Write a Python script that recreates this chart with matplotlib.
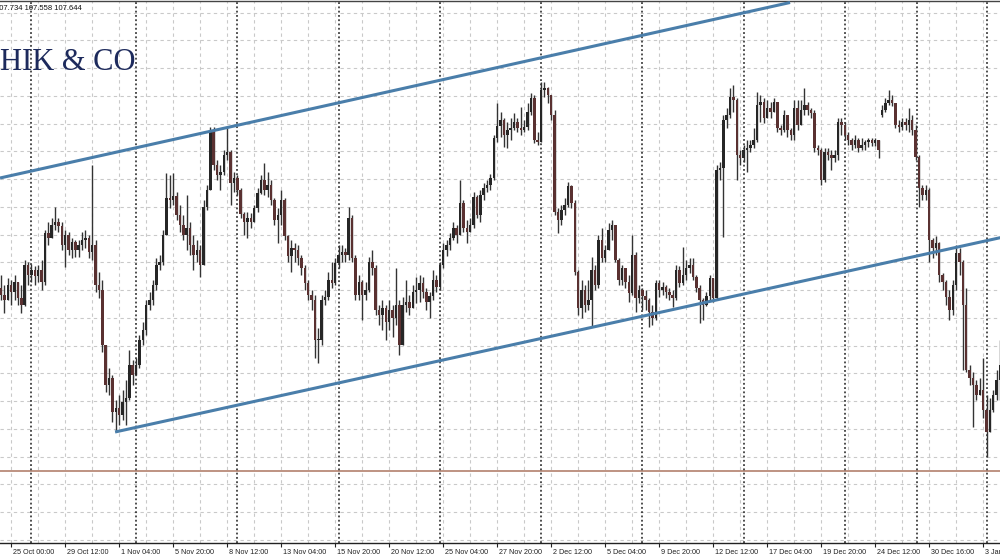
import numpy as np
import matplotlib
matplotlib.use("Agg")
import matplotlib.pyplot as plt
from matplotlib.transforms import ScaledTranslation

# H4 bars (bar 0 = left edge)
closes = [
    109.05, 109.00, 109.15, 109.08, 109.18, 109.02, 108.95, 109.35, 109.25, 109.30,
    109.24, 109.30, 109.18, 109.67, 109.62, 109.75, 109.78, 109.74, 109.55, 109.65,
    109.50, 109.58, 109.50, 109.55, 109.60, 109.62, 109.48, 109.55, 109.15, 109.10,
    108.55, 108.15, 108.22, 107.88, 107.92, 107.85, 107.98, 108.02, 108.35, 108.25,
    108.35, 108.60, 108.70, 108.95, 109.00, 109.15, 109.35, 109.38, 109.65, 110.02,
    110.00, 110.04, 109.85, 109.75, 109.65, 109.72, 109.55, 109.45, 109.50, 109.35,
    109.93, 110.10, 110.70, 110.35, 110.25, 110.28, 110.45, 110.48, 110.17, 110.22,
    110.10, 109.86, 109.78, 109.82, 109.78, 109.92, 110.07, 110.20, 110.10, 110.15,
    110.00, 109.80, 109.85, 110.00, 109.64, 109.44, 109.52, 109.50, 109.42, 109.32,
    109.17, 109.05, 109.00, 108.60, 108.60, 109.00, 109.03, 109.20, 109.17, 109.37,
    109.45, 109.48, 109.45, 109.82, 109.42, 109.05, 109.18, 109.05, 109.10, 109.38,
    109.32, 108.90, 108.85, 108.92, 108.78, 108.90, 108.82, 108.95, 108.55, 108.95,
    108.98, 108.92, 109.08, 109.10, 109.17, 109.08, 108.98, 109.04, 109.20, 109.13,
    109.35, 109.50, 109.55, 109.62, 109.72, 109.65, 109.97, 109.72, 109.68, 109.75,
    110.03, 109.85, 110.05, 110.12, 110.15, 110.22, 110.62, 110.74, 110.80, 110.65,
    110.70, 110.72, 110.78, 110.72, 110.70, 110.73, 110.88, 111.02, 110.60, 110.58,
    111.10, 111.12, 111.05, 110.85, 109.88, 109.80, 109.90, 109.95, 110.14, 109.97,
    109.28, 108.92, 109.10, 108.95, 109.00, 109.30, 109.15, 109.60, 109.42, 109.50,
    109.70, 109.75, 109.40, 109.20, 109.32, 109.18, 109.07, 109.45, 109.02, 109.10,
    109.04, 109.00, 108.88, 108.82, 109.17, 109.10, 109.13, 109.08, 109.05, 109.02,
    109.30, 109.17, 109.25, 109.32, 109.35, 109.23, 109.12, 109.00, 108.95, 109.04,
    109.22, 109.02, 110.30, 110.32, 110.80, 110.85, 111.03, 111.00, 110.45, 110.42,
    110.50, 110.52, 110.55, 110.60, 110.95, 110.98, 110.82, 110.92, 110.88, 110.98,
    110.72, 110.70, 110.85, 110.70, 110.65, 110.92, 110.75, 110.90, 110.95, 110.90,
    110.87, 110.52, 110.50, 110.20, 110.48, 110.45, 110.42, 110.45, 110.78, 110.75,
    110.65, 110.60, 110.55, 110.60, 110.52, 110.55, 110.58, 110.60, 110.57, 110.60,
    110.50, 110.90, 110.97, 111.00, 110.97, 110.75, 110.73, 110.78, 110.75, 110.80,
    110.70, 110.43, 110.12, 110.05, 110.10, 109.60, 109.52, 109.57, 109.25, 109.18,
    109.03, 108.90, 109.15, 109.47, 109.38, 108.95, 108.30, 108.22, 108.15, 108.05,
    108.10, 107.90, 107.68, 107.90, 108.05, 108.20, 108.35,
]

highs = [
    109.25, 109.15, 109.22, 109.20, 109.25, 109.17, 109.15, 109.40, 109.38, 109.36,
    109.34, 109.35, 109.40, 109.70, 109.78, 109.82, 109.93, 109.82, 109.78, 109.70,
    109.68, 109.62, 109.60, 109.60, 109.68, 109.70, 109.65, 110.35, 109.60, 109.28,
    109.20, 108.55, 108.32, 108.25, 108.00, 108.05, 108.10, 108.20, 108.50, 108.40,
    108.42, 108.65, 108.78, 109.00, 109.08, 109.20, 109.42, 109.45, 109.70, 110.27,
    110.25, 110.27, 110.08, 109.95, 109.85, 110.05, 109.78, 109.65, 109.60, 109.55,
    110.00, 110.15, 110.73, 110.73, 110.40, 110.35, 110.50, 110.72, 110.50, 110.28,
    110.25, 110.12, 109.88, 109.88, 109.87, 109.95, 110.12, 110.25, 110.37, 110.28,
    110.20, 110.02, 109.92, 110.10, 110.02, 109.65, 109.60, 109.57, 109.55, 109.45,
    109.35, 109.20, 109.10, 109.05, 108.72, 109.05, 109.10, 109.28, 109.38, 109.42,
    109.55, 109.55, 109.52, 109.93, 109.85, 109.45, 109.25, 109.20, 109.18, 109.43,
    109.50, 109.35, 108.95, 109.00, 108.95, 109.00, 108.95, 109.32, 109.00, 109.03,
    109.20, 109.05, 109.15, 109.23, 109.25, 109.23, 109.12, 109.08, 109.30, 109.25,
    109.38, 109.57, 109.60, 109.67, 109.78, 109.75, 110.20, 110.00, 109.80, 109.82,
    110.08, 110.05, 110.10, 110.17, 110.20, 110.26, 110.65, 110.97, 110.88, 110.82,
    110.78, 110.82, 110.87, 110.82, 110.93, 110.80, 110.97, 111.07, 111.05, 110.68,
    111.18, 111.18, 111.13, 111.05, 110.90, 109.92, 109.95, 110.02, 110.18, 110.15,
    110.00, 109.30, 109.20, 109.15, 109.20, 109.43, 109.35, 109.65, 109.72, 109.55,
    109.77, 109.80, 109.75, 109.42, 109.35, 109.32, 109.25, 109.65, 109.48, 109.15,
    109.12, 109.10, 109.02, 108.95, 109.20, 109.20, 109.18, 109.15, 109.12, 109.10,
    109.35, 109.34, 109.53, 109.40, 109.42, 109.42, 109.25, 109.15, 109.02, 109.08,
    109.25, 109.22, 110.35, 110.38, 110.85, 110.92, 111.12, 111.15, 111.02, 110.50,
    110.55, 110.60, 110.60, 110.72, 111.08, 111.05, 111.02, 111.00, 110.98, 111.02,
    110.95, 110.75, 110.90, 110.82, 110.72, 111.00, 111.00, 111.00, 111.12, 110.98,
    110.92, 110.90, 110.55, 110.52, 110.52, 110.52, 110.50, 110.50, 110.82, 110.82,
    110.78, 110.68, 110.62, 110.65, 110.62, 110.62, 110.60, 110.62, 110.62, 110.62,
    110.60, 110.95, 111.02, 111.10, 111.05, 110.95, 110.80, 110.82, 110.82, 110.92,
    110.85, 110.75, 110.45, 110.15, 110.15, 110.12, 109.62, 109.64, 109.58, 109.27,
    109.20, 109.10, 109.20, 109.55, 109.52, 109.40, 109.12, 108.35, 108.28, 108.20,
    108.22, 108.42, 108.05, 108.02, 108.10, 108.30, 108.60,
]

lows = [
    109.00, 108.87, 109.00, 108.95, 109.00, 108.95, 108.87, 108.94, 109.15, 109.18,
    109.15, 109.18, 109.10, 109.15, 109.55, 109.62, 109.70, 109.68, 109.50, 109.33,
    109.45, 109.42, 109.43, 109.43, 109.50, 109.52, 109.42, 109.40, 109.08, 109.02,
    108.48, 108.08, 108.05, 107.78, 107.68, 107.75, 107.80, 107.75, 108.00, 108.15,
    108.28, 108.32, 108.55, 108.65, 108.90, 108.95, 109.10, 109.30, 109.35, 109.65,
    109.92, 109.95, 109.80, 109.68, 109.60, 109.50, 109.45, 109.30, 109.38, 109.23,
    109.35, 109.90, 110.10, 110.30, 110.20, 110.10, 110.25, 110.40, 109.95, 110.08,
    110.05, 109.82, 109.65, 109.62, 109.72, 109.78, 109.88, 110.06, 110.05, 110.03,
    109.95, 109.75, 109.57, 109.75, 109.60, 109.38, 109.28, 109.38, 109.35, 109.25,
    109.10, 109.00, 108.90, 108.42, 108.37, 108.55, 108.95, 109.00, 109.12, 109.15,
    109.32, 109.38, 109.38, 109.40, 109.38, 109.00, 109.00, 108.80, 109.00, 109.08,
    109.25, 108.85, 108.75, 108.70, 108.60, 108.70, 108.63, 108.75, 108.45, 108.70,
    108.88, 108.85, 108.97, 108.97, 108.98, 109.02, 108.90, 108.82, 109.00, 109.08,
    109.10, 109.32, 109.44, 109.50, 109.60, 109.57, 109.65, 109.68, 109.57, 109.70,
    109.72, 109.82, 109.78, 110.00, 110.08, 110.10, 110.20, 110.58, 110.63, 110.53,
    110.52, 110.60, 110.70, 110.68, 110.65, 110.68, 110.70, 110.85, 110.57, 110.55,
    110.78, 111.03, 110.97, 110.80, 109.85, 109.67, 109.75, 109.85, 109.93, 109.92,
    109.25, 108.85, 108.82, 108.88, 108.90, 108.73, 109.10, 109.12, 109.38, 109.38,
    109.50, 109.60, 109.38, 109.15, 109.15, 109.12, 108.98, 109.05, 108.88, 108.97,
    108.90, 108.90, 108.73, 108.75, 108.80, 109.03, 109.05, 109.02, 109.00, 108.93,
    109.00, 109.13, 109.15, 109.20, 109.27, 109.20, 109.08, 108.77, 108.80, 108.94,
    109.00, 108.98, 109.00, 110.20, 109.63, 110.72, 110.82, 110.88, 110.20, 110.35,
    110.38, 110.28, 110.48, 110.52, 110.58, 110.78, 110.77, 110.85, 110.82, 110.90,
    110.68, 110.65, 110.68, 110.63, 110.60, 110.60, 110.70, 110.82, 110.85, 110.85,
    110.82, 110.48, 110.45, 110.15, 110.18, 110.40, 110.30, 110.38, 110.40, 110.65,
    110.60, 110.55, 110.50, 110.52, 110.48, 110.50, 110.50, 110.53, 110.54, 110.54,
    110.42, 110.83, 110.88, 110.95, 110.94, 110.72, 110.68, 110.70, 110.70, 110.68,
    110.65, 110.40, 109.93, 110.00, 110.00, 109.38, 109.42, 109.45, 109.18, 109.10,
    108.95, 108.80, 108.85, 109.10, 109.25, 108.30, 108.28, 108.15, 107.73, 108.00,
    108.05, 107.82, 107.43, 107.75, 107.88, 108.00, 108.00,
]

first_open = 109.12
gap_opens = {261: 110.85}   # Christmas gap

# time axis labels (every 16 bars starting at bar 3)
tick_labels = [
    "25 Oct 00:00", "29 Oct 12:00", "1 Nov 04:00", "5 Nov 20:00", "8 Nov 12:00",
    "13 Nov 04:00", "15 Nov 20:00", "20 Nov 12:00", "25 Nov 04:00", "27 Nov 20:00",
    "2 Dec 12:00", "5 Dec 04:00", "9 Dec 20:00", "12 Dec 12:00", "17 Dec 04:00",
    "19 Dec 20:00", "24 Dec 12:00", "30 Dec 16:00", "3 Jan 04:00",
]
week_starts = [9, 40, 70, 100, 130, 160, 190, 220, 250, 271.4, 292]

# trend channel (bar index, price)
channel_upper = [(-0.3, 110.22), (233.8, 111.975)]
channel_lower = [(33.8, 107.68), (297, 109.63)]
level_line = 107.29

header_text = "107.734 107.558 107.644"
logo_text = "HIK & CO"

# -------------------------
# candles
# -------------------------
n = len(closes)
idx = np.arange(n)
c = np.array(closes)
o = np.concatenate([[first_open], c[:-1]])
for k, v in gap_opens.items():
    o[k] = v
h = np.maximum(np.array(highs), np.maximum(o, c))
l = np.minimum(np.array(lows), np.minimum(o, c))
up = c >= o

fig = plt.figure(figsize=(10, 5.6), dpi=100)
ax = fig.add_axes([0, 17.5 / 560, 1, 541.5 / 560])

up_col = "#262626"
dn_col = "#5a3131"
ax.vlines(idx, l, h, color="#333333", linewidth=1.0, zorder=3)
body_h = np.maximum(np.abs(c - o), 0.015)
ax.bar(idx[up], body_h[up], bottom=np.minimum(o, c)[up], width=0.74,
       color=up_col, linewidth=0, zorder=4)
ax.bar(idx[~up], body_h[~up], bottom=np.minimum(o, c)[~up], width=0.74,
       color=dn_col, linewidth=0, zorder=4)

# channel + horizontal level
ax.plot(*zip(*channel_upper), color="#4a7eaa", linewidth=2.2, zorder=5,
        solid_capstyle="butt")
ax.plot(*zip(*channel_lower), color="#4a7eaa", linewidth=2.2, zorder=5,
        solid_capstyle="butt")
ax.axhline(level_line, color="#b98a78", linewidth=1.3, zorder=2)

# weekly period separators
for w in week_starts:
    ax.axvline(w, color="#1e1e1e", linewidth=1.1, linestyle=(0, (1.2, 1.6)), zorder=2)

# -------------------------
# grid / axes
# -------------------------
major_x = np.arange(3, 3 + 16 * len(tick_labels), 16)
ax.set_xticks(major_x)
ax.set_xticklabels(tick_labels, fontsize=5.2, family="Liberation Sans", color="#222222")
ax.set_xticks(np.arange(3, 296, 8), minor=True)
ax.set_yticks(112 - 0.127 - 0.2775 * np.arange(20))
ax.set_yticklabels([])
ax.set_xlim(-0.3, 296.0)
ax.set_ylim(106.575, 111.99)
ax.tick_params(axis="x", which="major", length=3, width=0.8, direction="out",
               pad=1.5, color="#222222")
ax.tick_params(axis="x", which="minor", length=0)
ax.tick_params(axis="y", length=0)
offset = ScaledTranslation(2 / 100, 0, fig.dpi_scale_trans)
for lab in ax.get_xticklabels():
    lab.set_horizontalalignment("left")
    lab.set_transform(lab.get_transform() + offset)

grid_kw = dict(color="#c9c9c9", linewidth=0.8, linestyle=(0, (3, 3)))
ax.grid(True, which="major", **grid_kw)
ax.grid(True, which="minor", axis="x", **grid_kw)
ax.set_axisbelow(True)

for side in ["left", "right"]:
    ax.spines[side].set_visible(False)
ax.spines["top"].set_color("#444444")
ax.spines["bottom"].set_color("#222222")
ax.spines["top"].set_linewidth(1.0)
ax.spines["bottom"].set_linewidth(1.0)

# header + watermark
fig.text(-5 / 1000, 1 - 8 / 560, header_text, fontsize=5.5, family="Liberation Sans",
         color="#111111", va="center", ha="left")
fig.text(0, 1 - 70 / 560, logo_text, fontsize=22, family="Liberation Serif",
         color="#1d2a5c", va="baseline", ha="left")

fig.savefig("out.png", dpi=100)
